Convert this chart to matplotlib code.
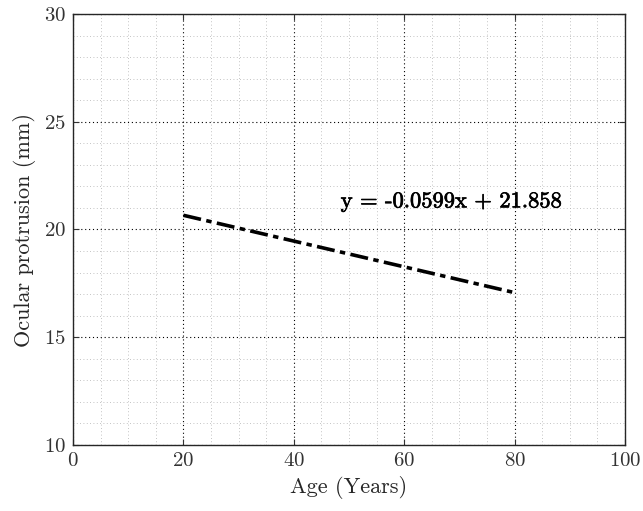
import matplotlib
matplotlib.use("Agg")
import matplotlib.pyplot as plt
import matplotlib.patheffects as pe
from matplotlib.ticker import MultipleLocator

# regression line endpoints
ages = [20, 80]
protrusion = [20.66, 17.07]
fit_label = "y = -0.0599x + 21.858"
label_pos = (48.5, 21.3)

plt.rcParams["font.family"] = "serif"
plt.rcParams["font.serif"] = ["cmr10", "DejaVu Serif"]
plt.rcParams["mathtext.fontset"] = "cm"
plt.rcParams["axes.formatter.use_mathtext"] = True

fig = plt.figure(figsize=(6.43, 5.11), dpi=100)
ax = fig.add_axes([73 / 643, 1 - 445 / 511, 552 / 643, 431 / 511])

ax.plot(ages, protrusion, color="black", linestyle=(0, (5, 1.5, 1.5, 1.5)),
        linewidth=2.6)
ax.text(*label_pos, fit_label, fontsize=16.2, color="black", va="center",
        path_effects=[pe.withStroke(linewidth=0.5, foreground="black")])

ax.set_xlim(0, 100)
ax.set_ylim(10, 30)
ax.xaxis.set_major_locator(MultipleLocator(20))
ax.xaxis.set_minor_locator(MultipleLocator(5))
ax.yaxis.set_major_locator(MultipleLocator(5))
ax.yaxis.set_minor_locator(MultipleLocator(1))

ax.grid(which="major", color="black", linestyle=(0, (1, 2.5)), linewidth=0.8)
ax.grid(which="minor", color="#b0b0b0", linestyle=(0, (1, 3)), linewidth=0.6)
ax.set_axisbelow(True)

ax.tick_params(which="both", direction="in", top=True, right=True,
               labelsize=15, colors="#333333")
ax.tick_params(which="minor", length=0)
ax.tick_params(which="major", length=4, pad=5)
for s in ax.spines.values():
    s.set_color("#262626")
    s.set_linewidth(1.0)

ax.set_xlabel("Age (Years)", fontsize=16, labelpad=4, color="#262626")
ax.set_ylabel("Ocular protrusion (mm)", fontsize=16, labelpad=6, color="#262626")

fig.savefig("out.png", dpi=100, facecolor="white")
